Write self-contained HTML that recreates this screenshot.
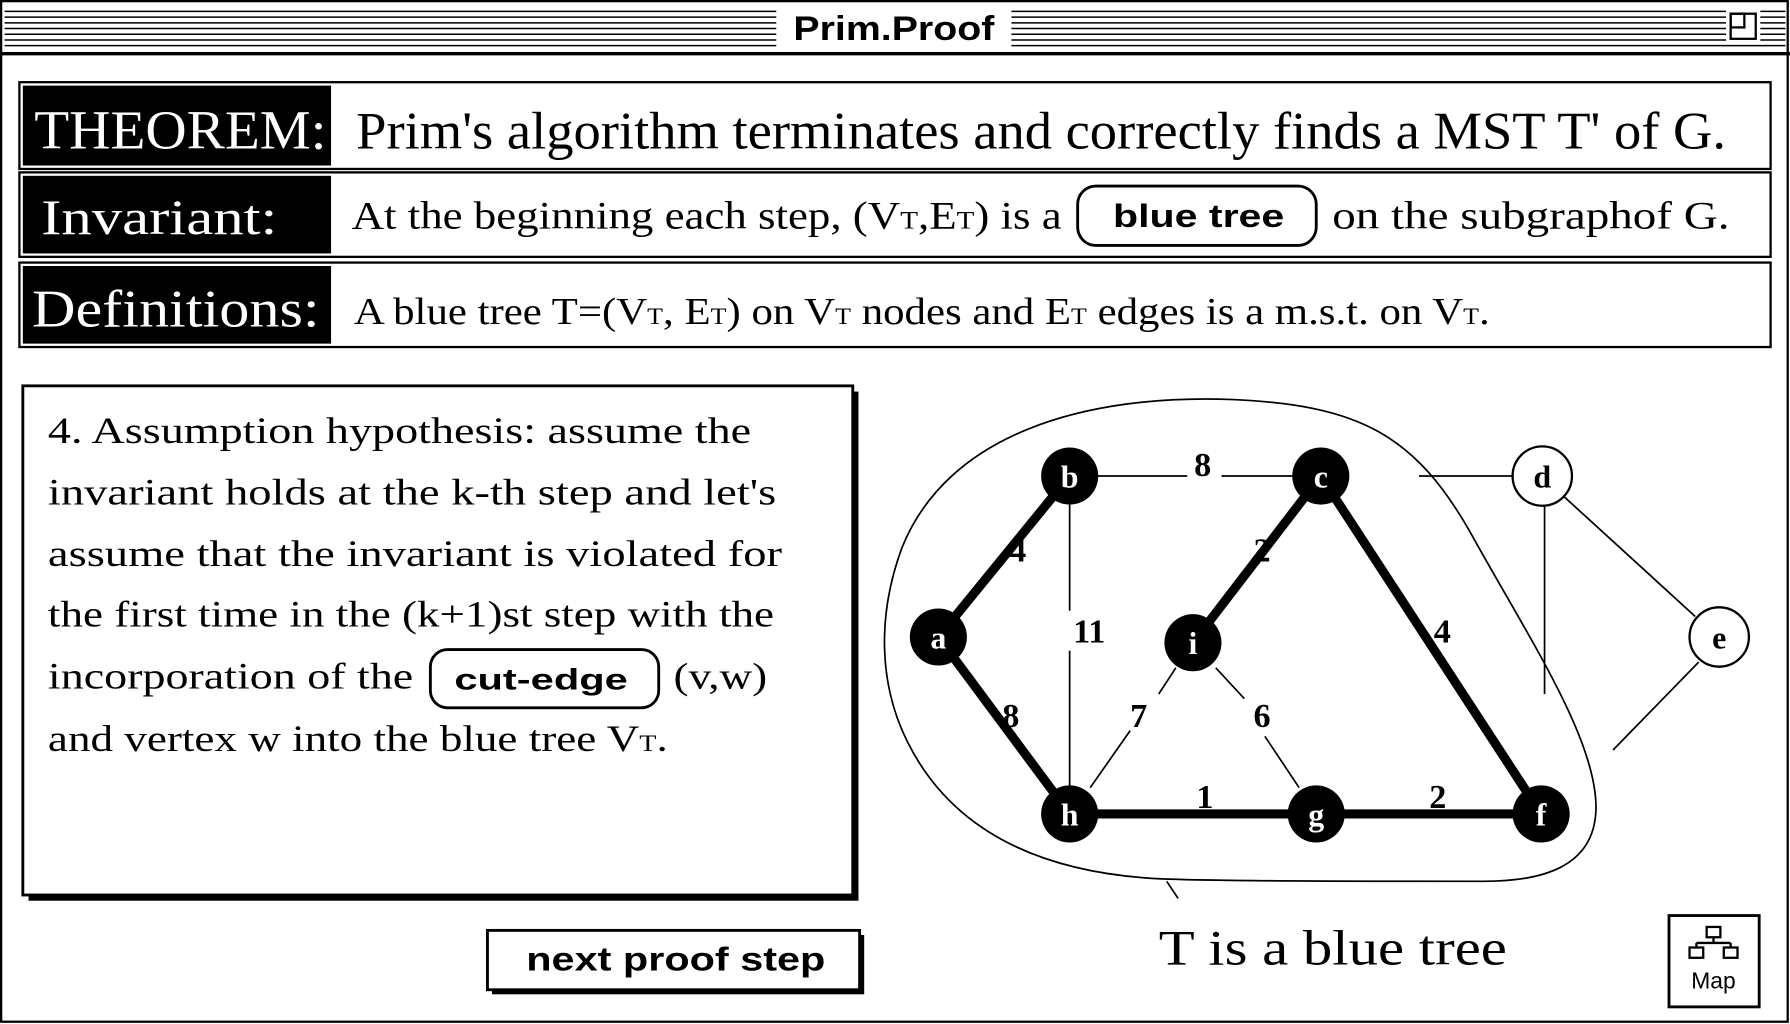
<!DOCTYPE html>
<html><head><meta charset="utf-8"><style>
html,body{margin:0;padding:0;background:#fff;width:1790px;height:1024px;overflow:hidden}
svg{display:block}
.serif{font-family:"Liberation Serif",serif}
.sans{font-family:"Liberation Sans",sans-serif;font-weight:bold}
</style></head><body>
<svg width="1790" height="1024" viewBox="0 0 1568 897" preserveAspectRatio="none" xmlns="http://www.w3.org/2000/svg">
<rect x="0" y="0" width="1568" height="897" fill="#fff"/>
<rect x="1" y="1" width="1565" height="894" fill="none" stroke="#000" stroke-width="2"/>
<g stroke="#000" stroke-width="1.3">
<line x1="4" y1="10" x2="1564" y2="10"/><line x1="4" y1="15" x2="1564" y2="15"/>
<line x1="4" y1="20" x2="1564" y2="20"/><line x1="4" y1="25" x2="1564" y2="25"/>
<line x1="4" y1="30" x2="1564" y2="30"/><line x1="4" y1="35" x2="1564" y2="35"/>
<line x1="4" y1="40" x2="1564" y2="40"/>
</g>
<line x1="0" y1="47" x2="1568" y2="47" stroke="#000" stroke-width="3"/>
<rect x="680" y="5" width="206" height="38" fill="#fff"/>
<text x="783" y="35" text-anchor="middle" class="sans" font-size="30" textLength="176" lengthAdjust="spacingAndGlyphs">Prim.Proof</text>
<rect x="1512" y="8" width="30" height="30" fill="#fff"/>
<rect x="1516" y="12" width="22" height="22" fill="none" stroke="#000" stroke-width="2"/>
<rect x="1516" y="12" width="12" height="12" fill="none" stroke="#000" stroke-width="2"/>
<rect x="17" y="72" width="1534" height="76" fill="none" stroke="#000" stroke-width="2"/>
<rect x="20" y="75" width="270" height="70" fill="#000"/>
<text x="30" y="130" class="serif" font-size="48" fill="#fff" textLength="256" lengthAdjust="spacingAndGlyphs">THEOREM:</text>
<text x="312" y="130" class="serif" font-size="46" textLength="1200" lengthAdjust="spacingAndGlyphs">Prim's algorithm terminates and correctly finds a MST T' of G.</text>
<rect x="17" y="151" width="1534" height="74" fill="none" stroke="#000" stroke-width="2"/>
<rect x="20" y="154" width="270" height="68" fill="#000"/>
<text x="36" y="205" class="serif" font-size="44" fill="#fff" textLength="207" lengthAdjust="spacingAndGlyphs">Invariant:</text>
<text x="308" y="200" class="serif" font-size="34" textLength="622" lengthAdjust="spacingAndGlyphs">At the beginning  each step, (V<tspan font-size="22">T</tspan>,E<tspan font-size="22">T</tspan>) is a</text>
<rect x="944" y="163" width="209" height="52" rx="16" fill="#fff" stroke="#000" stroke-width="2.5"/>
<text x="1050" y="199" text-anchor="middle" class="sans" font-size="28" textLength="150" lengthAdjust="spacingAndGlyphs">blue tree</text>
<text x="1167" y="200" class="serif" font-size="34" textLength="348" lengthAdjust="spacingAndGlyphs">on the subgraphof  G.</text>
<rect x="17" y="230" width="1534" height="74" fill="none" stroke="#000" stroke-width="2"/>
<rect x="20" y="233" width="270" height="68" fill="#000"/>
<text x="28" y="286" class="serif" font-size="46" fill="#fff" textLength="252" lengthAdjust="spacingAndGlyphs">Definitions:</text>
<text x="310" y="284" class="serif" font-size="33" textLength="995" lengthAdjust="spacingAndGlyphs">A blue tree T=(V<tspan font-size="20">T</tspan>, E<tspan font-size="20">T</tspan>) on V<tspan font-size="20">T</tspan> nodes and E<tspan font-size="20">T</tspan> edges is a m.s.t. on V<tspan font-size="20">T</tspan>.</text>
<rect x="25" y="343" width="727" height="446" fill="#000"/>
<rect x="20" y="338" width="727" height="446" fill="#fff" stroke="#000" stroke-width="2.5"/>
<g class="serif" font-size="32">
<text x="42" y="388" textLength="616" lengthAdjust="spacingAndGlyphs">4.  Assumption hypothesis:  assume the</text>
<text x="42" y="442" textLength="638" lengthAdjust="spacingAndGlyphs">invariant holds at the k-th step and let's</text>
<text x="42" y="496" textLength="643" lengthAdjust="spacingAndGlyphs">assume that the invariant is violated for</text>
<text x="42" y="549" textLength="636" lengthAdjust="spacingAndGlyphs">the first time in the (k+1)st step with the</text>
<text x="42" y="603" textLength="320" lengthAdjust="spacingAndGlyphs">incorporation of the</text>
<text x="590" y="603" textLength="82" lengthAdjust="spacingAndGlyphs">(v,w)</text>
<text x="42" y="658" textLength="543" lengthAdjust="spacingAndGlyphs">and vertex w into the blue tree V<tspan font-size="20">T</tspan>.</text>
</g>
<rect x="377" y="569" width="200" height="51" rx="15" fill="#fff" stroke="#000" stroke-width="2.5"/>
<text x="474" y="604" text-anchor="middle" class="sans" font-size="26" textLength="152" lengthAdjust="spacingAndGlyphs">cut-edge</text>
<rect x="431" y="819" width="326" height="52" fill="#000"/>
<rect x="427" y="815" width="326" height="52" fill="#fff" stroke="#000" stroke-width="2.5"/>
<text x="592" y="850" text-anchor="middle" class="sans" font-size="29" textLength="262" lengthAdjust="spacingAndGlyphs">next proof step</text>
<path d="M790,480 C830,380 950,345 1080,350 C1190,355 1240,380 1290,470 C1340,560 1400,650 1398,710 C1396,760 1350,772 1300,772 C1200,772 1080,772 1020,770 C900,765 830,720 795,650 C770,600 768,540 790,480 Z" fill="none" stroke="#000" stroke-width="1.5"/>
<line x1="1022" y1="772" x2="1032" y2="787" stroke="#000" stroke-width="1.5"/>
<g stroke="#000" stroke-width="1.5">
<line x1="960" y1="417" x2="1040" y2="417"/><line x1="1070" y1="417" x2="1133" y2="417"/>
<line x1="1243" y1="417" x2="1327" y2="417"/>
<line x1="937" y1="440" x2="937" y2="535"/><line x1="937" y1="570" x2="937" y2="690"/>
<line x1="1030" y1="585" x2="1015" y2="608"/><line x1="990" y1="640" x2="955" y2="690"/>
<line x1="1065" y1="585" x2="1090" y2="612"/><line x1="1108" y1="645" x2="1138" y2="690"/>
<line x1="1353" y1="442" x2="1353" y2="608"/>
<line x1="1370" y1="435" x2="1485" y2="540"/>
<line x1="1488" y1="580" x2="1413" y2="657"/>
</g>
<g stroke="#000" stroke-width="8">
<line x1="937" y1="417" x2="822" y2="558"/>
<line x1="1157" y1="417" x2="1045" y2="563"/>
<line x1="1157" y1="417" x2="1350" y2="713"/>
<line x1="822" y1="558" x2="937" y2="713"/>
<line x1="937" y1="713" x2="1153" y2="713"/>
<line x1="1153" y1="713" x2="1350" y2="713"/>
</g>
<g class="serif" font-size="30" font-weight="bold">
<text x="1046" y="417">8</text>
<text x="884" y="492">4</text>
<text x="940" y="563">11</text>
<text x="1098" y="492">2</text>
<text x="1256" y="563">4</text>
<text x="878" y="637">8</text>
<text x="990" y="637">7</text>
<text x="1098" y="637">6</text>
<text x="1048" y="708">1</text>
<text x="1252" y="708">2</text>
</g>
<g class="serif" font-size="28" font-weight="bold" text-anchor="middle">
<circle cx="937" cy="417" r="25"/><text x="937" y="427" fill="#fff">b</text>
<circle cx="1157" cy="417" r="25"/><text x="1157" y="427" fill="#fff">c</text>
<circle cx="822" cy="558" r="25"/><text x="822" y="568" fill="#fff">a</text>
<circle cx="1045" cy="563" r="25"/><text x="1045" y="573" fill="#fff">i</text>
<circle cx="937" cy="713" r="25"/><text x="937" y="723" fill="#fff">h</text>
<circle cx="1153" cy="713" r="25"/><text x="1153" y="723" fill="#fff">g</text>
<circle cx="1350" cy="713" r="25"/><text x="1350" y="723" fill="#fff">f</text>
<circle cx="1351" cy="417" r="26" fill="#fff" stroke="#000" stroke-width="2"/><text x="1351" y="427">d</text>
<circle cx="1506" cy="558" r="26" fill="#fff" stroke="#000" stroke-width="2"/><text x="1506" y="568">e</text>
</g>
<text x="1015" y="845" class="serif" font-size="44" textLength="305" lengthAdjust="spacingAndGlyphs">T is a blue tree</text>
<rect x="1462" y="802" width="79" height="80" fill="#fff" stroke="#000" stroke-width="2.5"/>
<g fill="none" stroke="#000" stroke-width="2">
<rect x="1495" y="812" width="12" height="9"/><rect x="1480" y="830" width="12" height="9"/><rect x="1510" y="830" width="12" height="9"/>
<line x1="1501" y1="821" x2="1501" y2="826"/><line x1="1486" y1="826" x2="1516" y2="826"/>
<line x1="1486" y1="826" x2="1486" y2="830"/><line x1="1516" y1="826" x2="1516" y2="830"/>
</g>
<text x="1501" y="866" text-anchor="middle" font-family="Liberation Sans,sans-serif" font-size="20">Map</text>
</svg>
</body></html>
